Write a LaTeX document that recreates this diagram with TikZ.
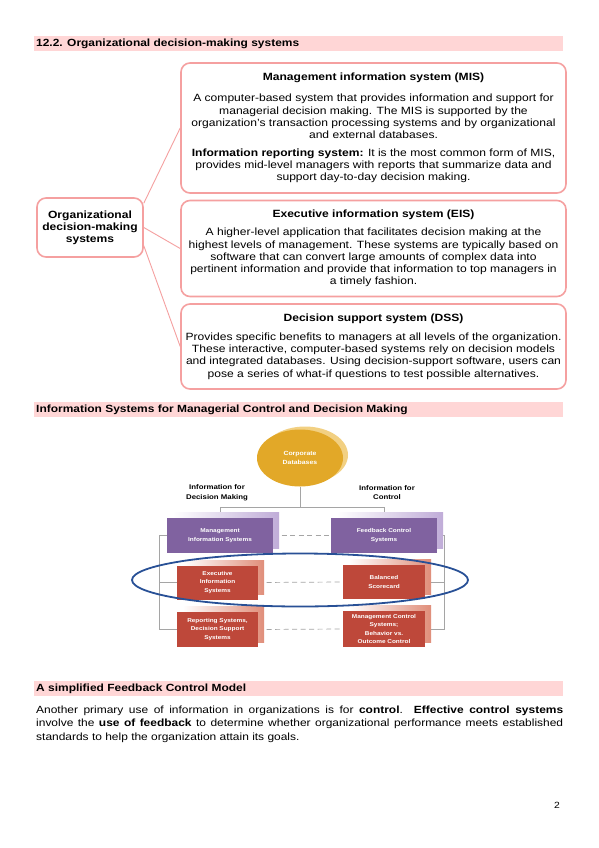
\documentclass[tikz,border=0pt]{standalone}
\usepackage{fontspec}
\setmainfont{Liberation Sans}[FakeStretch=1.15]
\usetikzlibrary{calc,shapes.geometric}
\definecolor{hdrpink}{RGB}{255,214,214}
\definecolor{boxpink}{RGB}{245,160,160}
\definecolor{mpurple}{RGB}{128,98,160}
\definecolor{mpurplesh}{RGB}{192,172,216}
\definecolor{mred}{RGB}{190,72,58}
\definecolor{mredsh}{RGB}{224,142,122}
\definecolor{mgold}{RGB}{226,168,40}
\definecolor{mgoldsh}{RGB}{242,208,130}
\definecolor{mgray}{RGB}{165,165,165}
\definecolor{mblue}{RGB}{40,80,150}
\pgfdeclarelayer{bg}
\pgfdeclarelayer{sh}
\pgfsetlayers{bg,sh,main}
\begin{document}
\begin{tikzpicture}[x=1pt,y=-1pt,
  hdrtext/.style={anchor=west, inner sep=0pt, font=\fontsize{10.4}{12}\selectfont\bfseries},
  pinkbox/.style={draw=boxpink, line width=1.6pt, rounded corners=9pt, fill=white, inner sep=0pt},
  boxtitle/.style={font=\fontsize{10.5}{12}\selectfont\bfseries, inner sep=0pt},
  boxbody/.style={font=\fontsize{10.5}{12.2}\selectfont, align=center, inner sep=0pt},
  link/.style={draw=boxpink, line width=0.9pt},
  figbox/.style={inner sep=0pt, align=center, text=white, font=\fontsize{5.6}{8.6}\selectfont\bfseries},
  pbox/.style={figbox, fill=mpurple, minimum width=106pt, minimum height=35pt},
  rbox/.style={figbox, fill=mred, minimum width=81pt, minimum height=34pt},
  figlabel/.style={inner sep=0pt, align=center, font=\fontsize{6.8}{9.5}\selectfont\bfseries},
  conn/.style={draw=mgray, line width=0.7pt},
  dconn/.style={conn, dash pattern=on 5pt off 3.5pt}
]
\begin{pgfonlayer}{bg}
\fill[white] (0,0) rectangle (599,848);
\end{pgfonlayer}
\useasboundingbox (0,0) rectangle (599,848);

% header bars
\fill[hdrpink] (34,36) rectangle (563,51);
\node[hdrtext] (h1) at (36,43.5) {12.2. Organizational decision-making systems};
\fill[hdrpink] (34,402) rectangle (563,417);
\node[hdrtext] (h2) at (36,409.5) {Information Systems for Managerial Control and Decision Making};
\fill[hdrpink] (34,681) rectangle (563,696);
\node[hdrtext] (h3) at (36,688.5) {A simplified Feedback Control Model};

% left node and boxes
\node[pinkbox, minimum width=106pt, minimum height=59pt, align=center,
      font=\fontsize{10.5}{12.2}\selectfont\bfseries] (org) at (90,227.5)
      {Organizational\\decision-making\\systems};
\node[pinkbox, minimum width=385pt, minimum height=130pt] (mis) at (373.5,128) {};
\node[pinkbox, minimum width=385pt, minimum height=96pt] (eis) at (373.5,248.5) {};
\node[pinkbox, minimum width=385pt, minimum height=85pt] (dss) at (373.5,346.5) {};

\draw[link] ($(org.north east)+(0,6)$) -- (mis.west);
\draw[link] (org.east) -- (eis.west);
\draw[link] ($(org.south east)+(0,-12)$) -- (dss.west);

\node[boxtitle] (mist) at (373.5,78) {Management information system (MIS)};
\node[boxbody] (misa) at (373.5,116.5) {A computer-based system that provides information and support for\\managerial decision making. The MIS is supported by the\\organization's transaction processing systems and by organizational\\and external databases.};
\node[boxbody] (misb) at (373.5,166) {\textbf{Information reporting system:} It is the most common form of MIS,\\provides mid-level managers with reports that summarize data and\\support day-to-day decision making.};

\node[boxtitle] (eist) at (373.5,215) {Executive information system (EIS)};
\node[boxbody] (eisa) at (373.5,257.5) {A higher-level application that facilitates decision making at the\\highest levels of management. These systems are typically based on\\software that can convert large amounts of complex data into\\pertinent information and provide that information to top managers in\\a timely fashion.};

\node[boxtitle] (dsst) at (373.5,318.5) {Decision support system (DSS)};
\node[boxbody] (dssa) at (373.5,356) {Provides specific benefits to managers at all levels of the organization.\\These interactive, computer-based systems rely on decision models\\and integrated databases. Using decision-support software, users can\\pose a series of what-if questions to test possible alternatives.};

% figure
\node[ellipse, fill=mgold, inner sep=0pt, minimum width=86pt, minimum height=57pt,
      text=white, align=center, font=\fontsize{6}{8.6}\selectfont\bfseries] (cdb) at (300,458) {Corporate\\Databases};
\node[figlabel] (ldm) at (217,493) {Information for\\Decision Making};
\node[figlabel] (lct) at (387,492.5) {Information for\\Control};

\node[pbox] (mgis) at (220,535.5) {Management\\Information Systems};
\node[pbox] (fcs) at (384,535.5) {Feedback Control\\Systems};
\node[rbox] (eisf) at (217.5,582.5) {Executive\\Information\\Systems};
\node[rbox, minimum width=82pt] (bsc) at (384,582) {Balanced\\Scorecard};
\node[rbox, minimum height=35pt] (rsd) at (217.5,629.5) {Reporting Systems,\\Decision Support\\Systems};
\node[rbox, minimum width=82pt, minimum height=36pt] (mcs) at (384,629) {Management Control\\Systems;\\Behavior vs.\\Outcome Control};

\coordinate (jn) at (300,507);
\coordinate (jl) at (220,507);
\coordinate (jr) at (384,507);
\coordinate (lx) at (159,0);
\coordinate (rx) at (444,0);

\begin{pgfonlayer}{sh}
\draw[conn] (cdb.south) -- (jn);
\draw[conn] (jl) -- (jr);
\draw[conn] (jl) -- (mgis.north);
\draw[conn] (jr) -- (fcs.north);
\draw[conn] (mgis.west) -- (mgis.west -| lx) -- (rsd.west -| lx) -- (rsd.west);
\draw[conn] (eisf.west) -- (eisf.west -| lx);
\draw[conn] (fcs.east) -- (fcs.east -| rx) -- (mcs.east -| rx) -- (mcs.east);
\draw[conn] (bsc.east) -- (bsc.east -| rx);
\draw[dconn] (mgis.east) -- (fcs.west);
\draw[dconn] (eisf.east) -- (bsc.west);
\draw[dconn] (rsd.east) -- (mcs.west);
\fill[mgoldsh] ($(cdb.center)+(5,-3)$) ellipse [x radius=43pt, y radius=28.5pt];
\foreach \b/\c in {mgis/mpurplesh, fcs/mpurplesh, eisf/mredsh, bsc/mredsh, rsd/mredsh, mcs/mredsh}{
  \shade[left color=white, right color=\c] ($(\b.south west)+(6,-5)$) rectangle ($(\b.north east)+(6,-5)$);
}
\end{pgfonlayer}

\node[draw=mblue, line width=1.8pt, ellipse, inner sep=0pt, minimum width=336pt, minimum height=53pt] (hl) at (300,580) {};

% body text
\node[anchor=north west, inner sep=0pt, text width=527pt, align=justify,
      font=\fontsize{10.4}{13.5}\selectfont] (para) at (36,705.5)
{Another primary use of information in organizations is for \textbf{control}. \textbf{Effective control systems}\linebreak involve the \textbf{use of feedback} to determine whether organizational performance meets established\linebreak standards to help the organization attain its goals.};

\node[inner sep=0pt, font=\fontsize{9}{11}\selectfont] (pg) at (557,805) {2};
\end{tikzpicture}
\end{document}
